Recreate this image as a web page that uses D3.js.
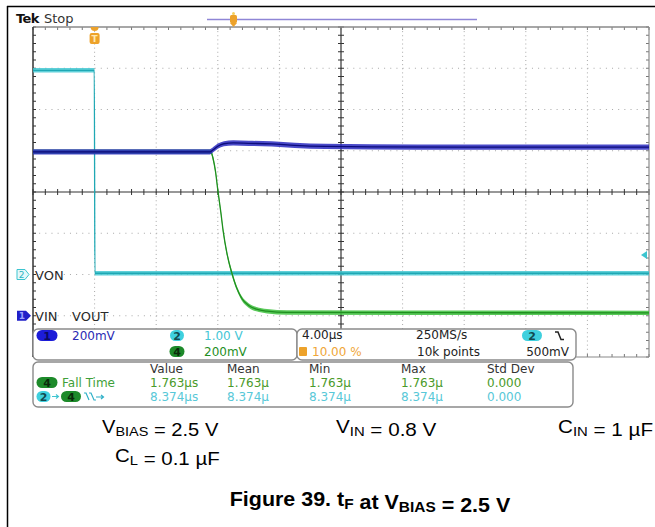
<!DOCTYPE html>
<html><head><meta charset="utf-8">
<script src="https://cdn.jsdelivr.net/npm/d3@7"></script>
<style>body{margin:0;background:#fff}svg{display:block}</style>
</head><body>
<svg id="c" width="655" height="527"></svg>
<script>
// ---------------- data ----------------
const timeDomainUs = [-4, 36];           // 4.00 µs/div, trigger at 10 %
const divisionsY = [-4, 4];
// VON (ch2, 1.00 V/div)
const vonTime  = [-4, -0.02, 0.02, 36];
const vonVolts = [4.95, 4.95, 0.03, 0.03];
// VIN (ch1, 200 mV/div)
const vinTime  = [-4, 7.5, 7.7, 8.0, 8.4, 9.0, 10.0, 11.5, 13.0, 15.0, 18.0, 24.0, 36.0];
const vinVolts = [0.795, 0.795, 0.805, 0.822, 0.834, 0.838, 0.836, 0.833, 0.826, 0.821, 0.819, 0.818, 0.818];
// VOUT (ch4, 200 mV/div)
const voutTime  = [-4, 7.55, 7.7, 7.85, 8.0, 8.2, 8.35, 8.6, 8.9, 9.2, 9.55, 10.0, 10.5, 11.2, 12.5, 36.0];
const voutVolts = [0.795, 0.795, 0.76, 0.70, 0.61, 0.50, 0.41, 0.30, 0.21, 0.14, 0.085, 0.05, 0.032, 0.022, 0.016, 0.014];
// channel settings: volts per division, ground position in divisions
const channelNames = ["ch1", "ch2", "ch4"];
const voltsPerDiv  = [0.2, 1.0, 0.2];
const groundDiv    = [-3, -2, -3];
// readouts
const measHeaders = ["Value", "Mean", "Min", "Max", "Std Dev"];
const fallRow     = ["1.763\u00b5s", "1.763\u00b5", "1.763\u00b5", "1.763\u00b5", "0.000"];
const delayRow    = ["8.374\u00b5s", "8.374\u00b5", "8.374\u00b5", "8.374\u00b5", "0.000"];

// ---------------- layout ----------------
const svg = d3.select("#c");
const L = 33, R = 649, T = 27, B = 357;
const x = d3.scaleLinear().domain(timeDomainUs).range([L, R]);
const yDiv = d3.scaleLinear().domain(divisionsY).range([B, T]);
const chScale = i => d3.scaleLinear()
  .domain([(divisionsY[0] - groundDiv[i]) * voltsPerDiv[i], (divisionsY[1] - groundDiv[i]) * voltsPerDiv[i]])
  .range([B, T]);
const mono = "'DejaVu Sans', Verdana, sans-serif";
const serif = "'Liberation Sans', Arial, Helvetica, sans-serif";

// page frame
svg.append("line").attr("x1", 7.5).attr("x2", 7.5).attr("y1", 6).attr("y2", 527).attr("stroke", "#000").attr("stroke-width", 1.5);
svg.append("line").attr("x1", 7).attr("x2", 655).attr("y1", 6.5).attr("y2", 6.5).attr("stroke", "#000").attr("stroke-width", 1.5);

// ---------------- grid ----------------
const g = svg.append("g");
const xMaj = d3.range(timeDomainUs[0], timeDomainUs[1] + 0.001, 4);
const yMaj = d3.range(divisionsY[0], divisionsY[1] + 0.001, 1);
xMaj.forEach(t => {
  if (t === timeDomainUs[0] || t === timeDomainUs[1] || t === 16) return;
  g.append("line").attr("x1", x(t)).attr("x2", x(t)).attr("y1", T).attr("y2", B)
    .attr("stroke", "#a8a8a8").attr("stroke-width", 1).attr("stroke-dasharray", "1,3.125");
});
yMaj.forEach(d => {
  if (d === -4 || d === 4 || d === 0) return;
  g.append("line").attr("x1", L).attr("x2", R).attr("y1", yDiv(d)).attr("y2", yDiv(d))
    .attr("stroke", "#a8a8a8").attr("stroke-width", 1).attr("stroke-dasharray", "1,5.16");
});
// center axes
g.append("line").attr("x1", L).attr("x2", R).attr("y1", yDiv(0)).attr("y2", yDiv(0)).attr("stroke", "#333").attr("stroke-width", 1.2);
g.append("line").attr("x1", x(16)).attr("x2", x(16)).attr("y1", T).attr("y2", B).attr("stroke", "#333").attr("stroke-width", 1.2);
const xMin = d3.range(timeDomainUs[0], timeDomainUs[1] + 0.001, 0.8);
const yMin = d3.range(divisionsY[0], divisionsY[1] + 0.001, 0.2);
xMin.forEach(t => {
  g.append("line").attr("x1", x(t)).attr("x2", x(t)).attr("y1", yDiv(0) - 3).attr("y2", yDiv(0) + 3).attr("stroke", "#333");
  g.append("line").attr("x1", x(t)).attr("x2", x(t)).attr("y1", T).attr("y2", T + 3).attr("stroke", "#777");
  g.append("line").attr("x1", x(t)).attr("x2", x(t)).attr("y1", B - 3).attr("y2", B).attr("stroke", "#777");
});
yMin.forEach(d => {
  g.append("line").attr("x1", x(16) - 3).attr("x2", x(16) + 3).attr("y1", yDiv(d)).attr("y2", yDiv(d)).attr("stroke", "#333");
  g.append("line").attr("x1", L).attr("x2", L + 3).attr("y1", yDiv(d)).attr("y2", yDiv(d)).attr("stroke", "#333");
  g.append("line").attr("x1", R - 3).attr("x2", R).attr("y1", yDiv(d)).attr("y2", yDiv(d)).attr("stroke", "#777");
});
// border
g.append("line").attr("x1", L).attr("x2", R).attr("y1", T).attr("y2", T).attr("stroke", "#8a8a8a").attr("stroke-width", 1.5);
g.append("line").attr("x1", L).attr("x2", R).attr("y1", B).attr("y2", B).attr("stroke", "#8a8a8a").attr("stroke-width", 1.2);
g.append("line").attr("x1", L).attr("x2", L).attr("y1", T).attr("y2", B).attr("stroke", "#333").attr("stroke-width", 1.5);
g.append("line").attr("x1", R).attr("x2", R).attr("y1", T).attr("y2", B).attr("stroke", "#8a8a8a").attr("stroke-width", 1.2);

// ---------------- traces ----------------
function drawTrace(times, volts, ch, band, fill, core) {
  const ys = chScale(ch);
  const pts = times.map((t, i) => [x(t), ys(volts[i])]);
  svg.append("path").datum(pts)
    .attr("d", d3.area().x(d => d[0]).y0(d => d[1] - band).y1(d => d[1] + band).curve(d3.curveMonotoneX))
    .attr("fill", fill).attr("opacity", 0.85);
  svg.append("path").datum(pts)
    .attr("d", d3.line().curve(d3.curveMonotoneX))
    .attr("fill", "none").attr("stroke", core).attr("stroke-width", 1.3);
}
drawTrace(vonTime, vonVolts, 1, 2.2, "#44c8d2", "#1fa8b4");
drawTrace(voutTime, voutVolts, 2, 2.2, "#3cbf3c", "#1f8f1f");
drawTrace(vinTime, vinVolts, 0, 2.6, "#2a2ac0", "#0c0c7a");

// ---------------- top status ----------------
svg.append("text").attr("x", 16).attr("y", 23).attr("font-family", mono).attr("font-size", 13).attr("font-weight", "bold").attr("letter-spacing", -0.6).attr("fill", "#111").text("Tek");
svg.append("text").attr("x", 44).attr("y", 23).attr("font-family", mono).attr("font-size", 13).attr("fill", "#333").text("Stop");
svg.append("line").attr("x1", 207).attr("x2", 477).attr("y1", 19.5).attr("y2", 19.5).attr("stroke", "#8f86d6").attr("stroke-width", 1.5);
svg.append("rect").attr("x", 230).attr("y", 15).attr("width", 7).attr("height", 8).attr("rx", 1.5).attr("fill", "#eda22a");
svg.append("path").attr("d", "M230,23 L237,23 L233.5,27 Z").attr("fill", "#eda22a");
svg.append("circle").attr("cx", 233.5).attr("cy", 13.5).attr("r", 1.5).attr("fill", "#f4d060");
// trigger position marker
svg.append("path").attr("d", `M${x(0) - 4},${T} A4,4 0 0 0 ${x(0) + 4},${T} Z`).attr("fill", "#eda22a");
svg.append("rect").attr("x", x(0) - 5).attr("y", 33).attr("width", 10).attr("height", 11).attr("rx", 2).attr("fill", "#eda22a");
svg.append("text").attr("x", x(0)).attr("y", 42).attr("text-anchor", "middle").attr("font-family", mono).attr("font-size", 9).attr("font-weight", "bold").attr("fill", "#ffe8b0").text("T");

// ground markers
const gy2 = chScale(1)(0), gy1 = chScale(0)(0);
svg.append("path").attr("d", `M17,${gy2 - 5} H25 L29,${gy2} L25,${gy2 + 5} H17 Z`).attr("fill", "#e6f8fa").attr("stroke", "#3cc4cf").attr("stroke-width", 1);
svg.append("text").attr("x", 21.5).attr("y", gy2 + 3.5).attr("text-anchor", "middle").attr("font-family", mono).attr("font-size", 9).attr("fill", "#2fb4c0").text("2");
svg.append("text").attr("x", 35).attr("y", gy2 + 5).attr("font-family", mono).attr("font-size", 13).attr("fill", "#2a2a2a").text("VON");
svg.append("path").attr("d", `M17,${gy1 - 5} H26 L31,${gy1} L26,${gy1 + 5} H17 Z`).attr("fill", "#2020c8");
svg.append("text").attr("x", 22).attr("y", gy1 + 3.5).attr("text-anchor", "middle").attr("font-family", mono).attr("font-size", 9).attr("font-weight", "bold").attr("fill", "#9aa0ff").text("1");
svg.append("text").attr("x", 35).attr("y", gy1 + 5).attr("font-family", mono).attr("font-size", 13).attr("fill", "#2a2a2a").text("VIN");
svg.append("text").attr("x", 72).attr("y", gy1 + 5).attr("font-family", mono).attr("font-size", 13).attr("fill", "#2a2a2a").text("VOUT");
// trigger level marker (ch2)
svg.append("path").attr("d", "M641,255 L647,251 L647,259 Z").attr("fill", "#3cc4cf");

// ---------------- readout boxes ----------------
function box(x0, y0, w, h) {
  svg.append("rect").attr("x", x0).attr("y", y0).attr("width", w).attr("height", h).attr("rx", 5)
    .attr("fill", "#fff").attr("stroke", "#8a8a8a").attr("stroke-width", 1.4);
}
function badge(cx, cy, w, fill, label, color) {
  svg.append("rect").attr("x", cx - w / 2).attr("y", cy - 5.5).attr("width", w).attr("height", 11).attr("rx", 5.5).attr("fill", fill);
  svg.append("text").attr("x", cx).attr("y", cy + 4).attr("text-anchor", "middle").attr("font-family", mono).attr("font-size", 11).attr("font-weight", "bold").attr("fill", color).text(label);
}
function txt(x0, y0, s, color, anchor) {
  svg.append("text").attr("x", x0).attr("y", y0).attr("text-anchor", anchor || "start")
    .attr("font-family", mono).attr("font-size", 12).attr("fill", color).text(s);
}
box(33, 329, 264, 31);
box(297, 329, 279, 31);
box(33, 362, 540, 45);

badge(47, 335.5, 21, "#1c1cd8", "1", "#0a0a60");
txt(72, 340, "200mV", "#2a2ab4");
badge(177, 335.5, 14, "#3fd0de", "2", "#114a50");
txt(204, 340, "1.00 V", "#45c6d6");
badge(177, 351.5, 15, "#1d8a2a", "4", "#0a2a0a");
txt(204, 356, "200mV", "#1f8f1f");

txt(302, 339, "4.00\u00b5s", "#222");
svg.append("rect").attr("x", 299).attr("y", 347).attr("width", 8).attr("height", 9).attr("rx", 1).attr("fill", "#eda22a");
txt(312, 356, "10.00 %", "#f0a638");
txt(416, 339, "250MS/s", "#222");
txt(417, 356, "10k points", "#222");
badge(532, 335.5, 20, "#3fd0de", "2", "#114a50");
svg.append("path").attr("d", "M555,332 H558 L561,339.5 H564").attr("fill", "none").attr("stroke", "#222").attr("stroke-width", 1.5);
txt(569, 356, "500mV", "#222", "end");

const colX = [150, 227, 309, 401, 487];
measHeaders.forEach((h, i) => txt(colX[i], 373, h, "#333"));
badge(47, 382.5, 21, "#1d8a2a", "4", "#0a2a0a");
txt(62, 387, "Fall Time", "#3f9f3a");
fallRow.forEach((v, i) => txt(colX[i], 387, v, "#4a9a2a"));
badge(43.5, 396.5, 14, "#3fd0de", "2", "#114a50");
svg.append("path").attr("d", "M52,396.5 H58 M56,394.5 L58.5,396.5 L56,398.5").attr("fill", "none").attr("stroke", "#3fc4d0").attr("stroke-width", 1.1);
badge(71, 396.5, 20, "#1d8a2a", "4", "#0a2a0a");
svg.append("path").attr("d", "M84,393 H86 L89,400 M89,393 H91 L94,400 H96 M96,397 H103 M101,395 L103.5,397 L101,399")
  .attr("fill", "none").attr("stroke", "#2fb0c8").attr("stroke-width", 1.2);
delayRow.forEach((v, i) => txt(colX[i], 401, v, "#58c8d8"));

// ---------------- captions ----------------
function cap(x0, y0, main, sub, size, sx, weight, anchor) {
  const gg = svg.append("g").attr("transform", `translate(${x0},${y0}) scale(${sx},1)`);
  const t = gg.append("text").attr("x", 0).attr("y", 0).attr("font-family", serif)
    .attr("font-size", size).attr("font-weight", weight || "normal").attr("fill", "#000").attr("text-anchor", anchor || "start");
  main.forEach((m, i) => {
    t.append("tspan").text(m);
    if (sub[i]) t.append("tspan").attr("font-size", size * 0.72).attr("dy", 3).text(sub[i]);
    if (sub[i]) t.append("tspan").attr("dy", -3).text("");
  });
  return t;
}
cap(102, 433, ["V", " = 2.5 V"], ["BIAS", ""], 17.5, 1.15);
cap(336, 433, ["V", " = 0.8 V"], ["IN", ""], 17.5, 1.18);
cap(558, 433, ["C", " = 1 \u00b5F"], ["IN", ""], 17.5, 1.18);
cap(115, 462, ["C", " = 0.1 \u00b5F"], ["L", ""], 17.5, 1.17);
cap(370, 506, ["Figure 39. t", " at V", " = 2.5 V"], ["F", "BIAS", ""], 19.5, 1.1, "bold", "middle");
</script>
</body></html>
